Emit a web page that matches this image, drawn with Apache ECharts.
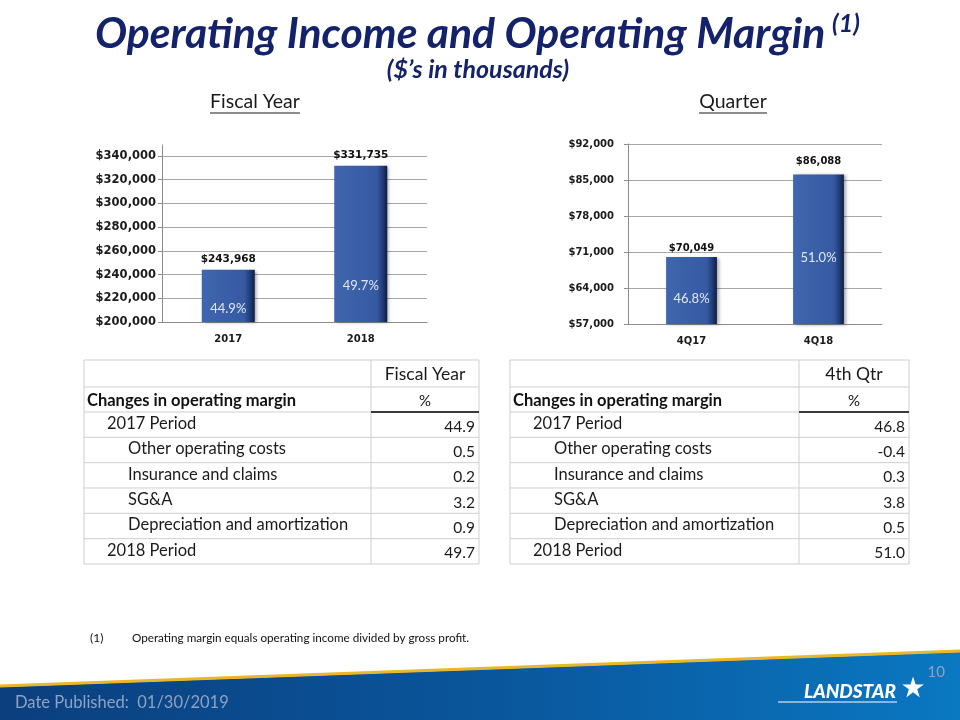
<!DOCTYPE html>
<html><head><meta charset="utf-8">
<script src="https://cdn.jsdelivr.net/npm/echarts@6/dist/echarts.min.js"></script>
<style>html,body{margin:0;padding:0;background:#fff}#c{width:960px;height:720px}</style>
</head><body><div id="c"></div>
<script>
// ---- data ----
const fyCats = ['2017', '2018'];
const fyIncome = [243968, 331735];
const fyMargin = [44.9, 49.7];
const qCats = ['4Q17', '4Q18'];
const qIncome = [70049, 86088];
const qMargin = [46.8, 51.0];
const rowLabels = ['2017 Period', 'Other operating costs', 'Insurance and claims', 'SG&A', 'Depreciation and amortization', '2018 Period'];
const fyChange = [44.9, 0.5, 0.2, 3.2, 0.9, 49.7];
const qChange = [46.8, -0.4, 0.3, 3.8, 0.5, 51.0];
const fyHeader = 'Fiscal Year';
const qHeader = '4th Qtr';
const colHeader = 'Changes in operating margin';
const unitHeader = '%';

// ---- styling / layout ----
const NAVY = '#13226b';
const money = v => '$' + Number(v).toLocaleString('en-US');
const barFill = {
  type: 'linear', x: 0, y: 0, x2: 1, y2: 0,
  colorStops: [
    { offset: 0, color: '#3f66ae' }, { offset: 0.8, color: '#3659a2' },
    { offset: 0.9, color: '#23407e' }, { offset: 1, color: '#0e1d40' }
  ]
};
const rowIndent = [1, 2, 2, 2, 2, 1];
const topDist = { fy: [5, 5], q: [3, 8] };
const inDist = { fy: [7, 30], q: [19, 60] };

function barSeries(xi, vals, margins, dist, dIn, labSize) {
  return [{
    type: 'bar', xAxisIndex: xi, yAxisIndex: xi, barWidth: '40%',
    data: vals.map((v, i) => ({ value: v, label: { distance: dist[i] } })),
    itemStyle: { color: barFill, shadowBlur: 3, shadowColor: 'rgba(0,0,0,0.35)', shadowOffsetX: 2, shadowOffsetY: 1 },
    label: { show: true, position: 'top', formatter: p => money(p.value), fontFamily: 'DejaVu Sans', fontWeight: 'bold', fontSize: labSize, color: '#111' },
    z: 3
  }, {
    type: 'bar', xAxisIndex: xi, yAxisIndex: xi, barWidth: '40%', barGap: '-100%',
    data: vals.map((v, i) => ({ value: v, label: { distance: dIn[i] } })),
    itemStyle: { color: 'rgba(0,0,0,0)' },
    label: { show: true, position: 'insideBottom', formatter: p => margins[p.dataIndex].toFixed(1) + '%', fontFamily: 'Lato', fontSize: 13, color: '#dfe8f6' },
    silent: true, z: 4
  }];
}

// ---- tables ----
const rowY = [360, 387, 412];
for (let i = 0; i < rowLabels.length; i++) rowY.push(412 + (i + 1) * 25.33);
const gridCol = '#cfcfcf';
function table(x0, x1, x2, header, vals) {
  const els = [];
  els.push({ type: 'rect', shape: { x: x0, y: rowY[0], width: x2 - x0, height: rowY[rowY.length - 1] - rowY[0] }, style: { fill: 'none', stroke: gridCol, lineWidth: 1 } });
  for (let k = 1; k < rowY.length - 1; k++) {
    els.push({ type: 'line', shape: { x1: x0, y1: rowY[k], x2: x2, y2: rowY[k] }, style: { stroke: gridCol, lineWidth: 1 } });
  }
  els.push({ type: 'line', shape: { x1: x1, y1: rowY[0], x2: x1, y2: rowY[rowY.length - 1] }, style: { stroke: gridCol, lineWidth: 1 } });
  els.push({ type: 'line', shape: { x1: x1, y1: rowY[2], x2: x2, y2: rowY[2] }, style: { stroke: '#000', lineWidth: 1.5 }, z: 5 });
  els.push({ type: 'text', x: (x1 + x2) / 2, y: (rowY[0] + rowY[1]) / 2 + 1, style: { text: header, font: '17.5px Lato', fill: '#1a1a1a', align: 'center', verticalAlign: 'middle' } });
  els.push({ type: 'text', x: x0 + 3, y: (rowY[1] + rowY[2]) / 2 + 1, style: { text: colHeader, font: 'bold 16.5px Lato', fill: '#111', align: 'left', verticalAlign: 'middle' } });
  els.push({ type: 'text', x: (x1 + x2) / 2, y: (rowY[1] + rowY[2]) / 2 + 2, style: { text: unitHeader, font: '15px Lato', fill: '#111', align: 'center', verticalAlign: 'middle' } });
  rowLabels.forEach((lab, i) => {
    const cy = (rowY[i + 2] + rowY[i + 3]) / 2;
    els.push({ type: 'text', x: x0 + (rowIndent[i] === 1 ? 23 : 44), y: cy - 1, style: { text: lab, font: '16.5px Lato', fill: '#1a1a1a', align: 'left', verticalAlign: 'middle' } });
    els.push({ type: 'text', x: x2 - 4, y: cy + 2, style: { text: vals[i].toFixed(1), font: '15.5px Lato', fill: '#1a1a1a', align: 'right', verticalAlign: 'middle' } });
  });
  return els;
}

const graphics = [
  { type: 'text', x: 95, y: 34, style: { text: 'Operating Income and Operating Margin', font: 'italic bold 42.7px Lato', fill: NAVY, align: 'left', verticalAlign: 'middle' } },
  { type: 'text', x: 832, y: 24, style: { text: '(1)', font: 'italic bold 25px Lato', fill: NAVY, align: 'left', verticalAlign: 'middle' } },
  { type: 'text', x: 478, y: 70, style: { text: '($\u2019s in thousands)', font: 'italic bold 25px Lato', fill: NAVY, align: 'center', verticalAlign: 'middle' } },
  { type: 'text', x: 255, y: 102, style: { text: 'Fiscal Year', font: '19.5px Lato', fill: '#1a1a1a', align: 'center', verticalAlign: 'middle' } },
  { type: 'line', shape: { x1: 210, y1: 113, x2: 300, y2: 113 }, style: { stroke: '#1a1a1a', lineWidth: 1 } },
  { type: 'text', x: 733, y: 102, style: { text: 'Quarter', font: '19.5px Lato', fill: '#1a1a1a', align: 'center', verticalAlign: 'middle' } },
  { type: 'line', shape: { x1: 699, y1: 113, x2: 767, y2: 113 }, style: { stroke: '#1a1a1a', lineWidth: 1 } },
  { type: 'text', x: 90, y: 638, style: { text: '(1)', font: '12px Lato', fill: '#111', align: 'left', verticalAlign: 'middle' } },
  { type: 'text', x: 132, y: 638, style: { text: 'Operating margin equals operating income divided by gross profit.', font: '11.7px Lato', fill: '#111', align: 'left', verticalAlign: 'middle' } },
  // footer band
  { type: 'polygon', shape: { points: [[0, 687], [960, 652], [960, 720], [0, 720]] }, style: { fill: { type: 'linear', x: 0, y: 0, x2: 1, y2: 0, colorStops: [{ offset: 0, color: '#0b3f7e' }, { offset: 0.5, color: '#0a559b' }, { offset: 1, color: '#0a78c2' }] } } },
  { type: 'polyline', shape: { points: [[0, 686], [960, 651]] }, style: { stroke: '#e9b82a', lineWidth: 3 } },
  { type: 'text', x: 15, y: 703, style: { text: 'Date Published:  01/30/2019', font: '16.5px Lato', fill: '#8ea3c4', align: 'left', verticalAlign: 'middle' } },
  { type: 'text', x: 945, y: 672, style: { text: '10', font: '15px Lato', fill: '#8fa5be', align: 'right', verticalAlign: 'middle' } },
  { type: 'text', x: 850, y: 692, style: { text: 'LANDSTAR', font: 'italic 900 19px Lato', fill: '#fff', align: 'center', verticalAlign: 'middle' } },
  { type: 'line', shape: { x1: 778, y1: 702, x2: 897, y2: 702 }, style: { stroke: '#fff', lineWidth: 1.2 } },
  { type: 'text', x: 913, y: 690, style: { text: '\u2605', font: '28px DejaVu Sans', fill: '#fff', align: 'center', verticalAlign: 'middle' } }
].concat(table(84, 371, 479, fyHeader, fyChange), table(510, 799, 909, qHeader, qChange));

const axisGray = '#8c8c8c';
const option = {
  animation: false,
  backgroundColor: '#fff',
  grid: [
    { left: 162, top: 156, width: 265, height: 166 },
    { left: 628, top: 144, width: 254, height: 180 },
    { left: 162, top: 145, width: 265, height: 177 }
  ],
  xAxis: [
    { gridIndex: 0, type: 'category', data: fyCats, axisLine: { lineStyle: { color: axisGray } }, axisTick: { length: 4, lineStyle: { color: axisGray } },
      axisLabel: { margin: 12, fontFamily: 'DejaVu Sans', fontWeight: 'bold', fontSize: 10, color: '#1a1a1a' } },
    { gridIndex: 1, type: 'category', data: qCats, axisLine: { lineStyle: { color: axisGray } }, axisTick: { length: 4, lineStyle: { color: axisGray } },
      axisLabel: { margin: 12, fontFamily: 'DejaVu Sans', fontWeight: 'bold', fontSize: 10, color: '#1a1a1a' } },
    { gridIndex: 2, type: 'category', show: false, data: fyCats }
  ],
  yAxis: [
    { gridIndex: 0, type: 'value', min: 200000, max: 340000, interval: 20000,
      axisLine: { show: true, lineStyle: { color: axisGray } }, axisTick: { show: true, length: 4, lineStyle: { color: axisGray } },
      splitLine: { lineStyle: { color: '#a8a8a8' } },
      axisLabel: { margin: 6, formatter: money, fontFamily: 'DejaVu Sans', fontWeight: 'bold', fontSize: 11.5, color: '#1a1a1a' } },
    { gridIndex: 1, type: 'value', min: 57000, max: 92000, interval: 7000,
      axisLine: { show: true, lineStyle: { color: axisGray } }, axisTick: { show: true, length: 4, lineStyle: { color: axisGray } },
      splitLine: { lineStyle: { color: '#a8a8a8' } },
      axisLabel: { margin: 14, formatter: money, fontFamily: 'DejaVu Sans', fontWeight: 'bold', fontSize: 10, color: '#1a1a1a' } },
    { gridIndex: 2, type: 'value', min: 0, max: 1, axisLine: { show: true, lineStyle: { color: axisGray } }, axisTick: { show: false }, axisLabel: { show: false }, splitLine: { show: false } }
  ],
  series: [].concat(
    barSeries(0, fyIncome, fyMargin, topDist.fy, inDist.fy, 10.5),
    barSeries(1, qIncome, qMargin, topDist.q, inDist.q, 10)
  ),
  graphic: graphics
};
const chart = echarts.init(document.getElementById('c'), null, { renderer: 'canvas' });
chart.setOption(option);
</script></body></html>
